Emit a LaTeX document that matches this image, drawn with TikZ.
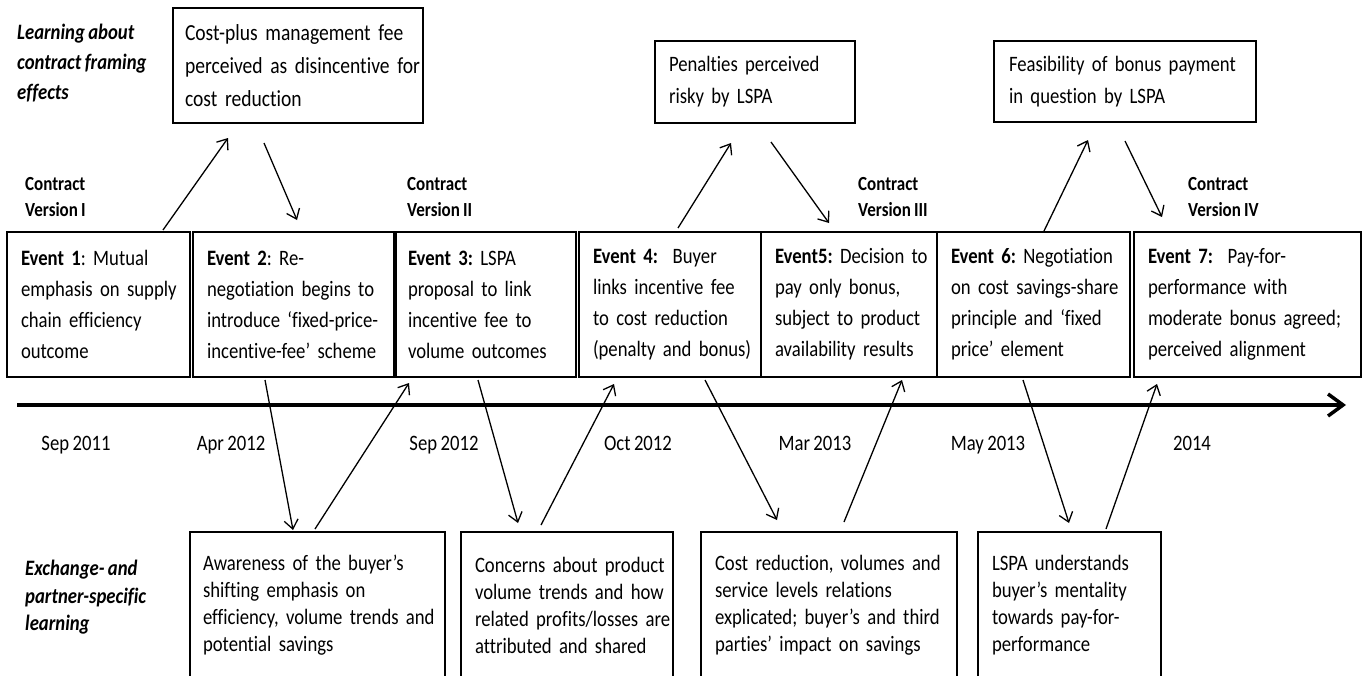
\documentclass[tikz,border=0pt]{standalone}
\usepackage{fontspec}
\setmainfont{Carlito}[FakeStretch=0.85,WordSpace=0.8,RawFeature=-liga]
\usetikzlibrary{arrows.meta,calc}
\frenchspacing
\begin{document}
\begin{tikzpicture}[x=1pt,y=-1pt,
  box/.style={draw, line width=1.6pt, anchor=north west, inner xsep=0pt, inner ysep=0pt, outer sep=0pt, align=left, execute at begin node={\frenchspacing\leftskip=14pt\rightskip=-40pt plus 1fil}},
  evt/.style={box, font=\fontsize{22}{31}\selectfont, minimum height=145pt},
  topbox/.style={box, font=\fontsize{22}{32}\selectfont},
  botbox/.style={box, font=\fontsize{22}{27}\selectfont, minimum height=146pt},
  lbl/.style={anchor=north west, inner sep=0pt, align=left, font=\fontsize{22}{30}\selectfont\bfseries\itshape},
  ver/.style={anchor=north west, inner sep=0pt, align=left, font=\fontsize{20}{26}\selectfont\bfseries},
  datelbl/.style={inner sep=0pt, anchor=base, font=\fontsize{22}{26}\selectfont},
  conn/.style={line width=1.3pt, -{Straight Barb[length=9pt,width=14pt]}},
  axis/.style={line width=3.5pt, -{Straight Barb[length=15pt,width=22pt]}}
]
\clip (0,0) rectangle (1366,675);

% side labels
\node[lbl] (lblA) at (17,24) {Learning about\\contract framing\\effects};
\node[lbl, font=\fontsize{22}{27.5}\selectfont\bfseries\itshape] (lblB) at (25,560) {Exchange- and\\partner-specific\\learning};

% contract version labels
\node[ver] (v1) at (25,177) {Contract\\Version I};
\node[ver] (v2) at (407,177) {Contract\\Version II};
\node[ver] (v3) at (858,177) {Contract\\Version III};
\node[ver] (v4) at (1188,177) {Contract\\Version IV};

% top boxes
\node[topbox, font=\fontsize{23}{33}\selectfont, text width=250pt, minimum height=115pt, execute at begin node={\leftskip=12pt}] (t1) at (173,8)
  {Cost-plus management fee\\perceived as disincentive for\\cost reduction};
\node[topbox, text width=200pt, minimum height=82pt] (t2) at (655,41)
  {Penalties perceived\\risky by LSPA};
\node[topbox, text width=262pt, minimum height=81pt, execute at begin node={\leftskip=15pt}] (t3) at (994,41)
  {Feasibility of bonus payment\\in question by LSPA};

% event boxes
\node[evt, text width=183pt] (e1) at (7,232)
  {\textbf{Event 1}: Mutual\\emphasis on supply\\chain efficiency\\outcome};
\node[evt, text width=201pt] (e2) at (193,232)
  {\textbf{Event 2}: Re-\\negotiation begins to\\introduce ‘fixed-price-\\incentive-fee’ scheme};
\node[evt, text width=180pt, execute at begin node={\leftskip=12pt}] (e3) at (396,232)
  {\textbf{Event 3:} LSPA\\proposal to link\\incentive fee to\\volume outcomes};
\node[evt, text width=182pt] (e4) at (579,232)
  {\textbf{Event 4:}~ Buyer\\links incentive fee\\to cost reduction\\(penalty and bonus)};
\node[evt, text width=176pt] (e5) at (761,232)
  {\textbf{Event5:} Decision to\\pay only bonus,\\subject to product\\availability results};
\node[evt, text width=193pt] (e6) at (937,232)
  {\textbf{Event 6:} Negotiation\\on cost savings-share\\principle and ‘fixed\\price’ element};
\node[evt, text width=227pt] (e7) at (1134,232)
  {\textbf{Event 7:}~ Pay-for-\\performance with\\moderate bonus agreed;\\perceived alignment};

% bottom boxes
\node[botbox, text width=255pt, execute at begin node={\leftskip=13pt}] (b1) at (190,532)
  {Awareness of the buyer’s\\shifting emphasis on\\efficiency, volume trends and\\potential savings};
\node[botbox, text width=212pt] (b2) at (461,532)
  {Concerns about product\\volume trends and how\\related profits/losses are\\attributed and shared};
\node[botbox, text width=256pt] (b3) at (701,532)
  {Cost reduction, volumes and\\service levels relations\\explicated; buyer’s and third\\parties’ impact on savings};
\node[botbox, text width=183pt] (b4) at (978,532)
  {LSPA understands\\buyer’s mentality\\towards pay-for-\\performance};

% timeline
\coordinate (tl0) at (17,405);
\coordinate (tl1) at (1346,405);
\draw[axis] (tl0) -- (tl1);

% dates
\node[datelbl] (d1) at (76,450) {Sep 2011};
\node[datelbl] (d2) at (231,450) {Apr 2012};
\node[datelbl] (d3) at (444,450) {Sep 2012};
\node[datelbl] (d4) at (638,450) {Oct 2012};
\node[datelbl] (d5) at (815,450) {Mar 2013};
\node[datelbl] (d6) at (988,450) {May 2013};
\node[datelbl] (d7) at (1192,450) {2014};

% upper connectors
\draw[conn] ($(e1.north west)+(156,-2)$) -- ($(t1.north west)+(55,130)$);
\draw[conn] ($(t1.north west)+(91,135)$) -- ($(e2.north west)+(104,-12)$);
\draw[conn] ($(e4.north west)+(99,-4)$) -- ($(t2.north west)+(76,102)$);
\draw[conn] ($(t2.north west)+(116,101)$) -- ($(e5.north west)+(68,-9)$);
\draw[conn] ($(e6.north west)+(107,-1)$) -- ($(t3.north west)+(94,99)$);
\draw[conn] ($(t3.north west)+(131,100)$) -- ($(e7.north west)+(28,-15)$);

% lower connectors
\draw[conn] ($(e2.north west)+(72,148)$) -- ($(b1.north west)+(103,-2)$);
\draw[conn] ($(b1.north west)+(125,-3)$) -- ($(e3.north west)+(13,151)$);
\draw[conn] ($(e3.north west)+(82,148)$) -- ($(b2.north west)+(57,-9)$);
\draw[conn] ($(b2.north west)+(80,-7)$) -- ($(e4.north west)+(35,152)$);
\draw[conn] ($(e4.north west)+(126,148)$) -- ($(b3.north west)+(76,-12)$);
\draw[conn] ($(b3.north west)+(143,-10)$) -- ($(e5.north west)+(141,148)$);
\draw[conn] ($(e6.north west)+(86,148)$) -- ($(b4.north west)+(91,-9)$);
\draw[conn] ($(b4.north west)+(128,-3)$) -- ($(e7.north west)+(23,152)$);
\end{tikzpicture}
\end{document}
